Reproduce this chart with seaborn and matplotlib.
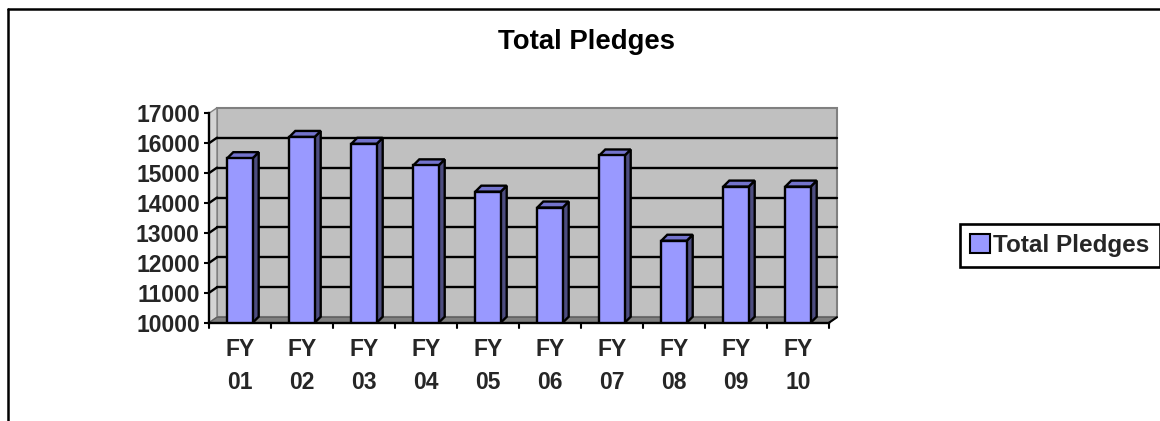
import matplotlib
matplotlib.use("Agg")
import matplotlib.pyplot as plt
import matplotlib.transforms as mtransforms
from matplotlib.patches import Polygon, Patch, Rectangle
from matplotlib.lines import Line2D
import seaborn as sns
import pandas as pd

# ---- data ----
categories = ["FY\n01", "FY\n02", "FY\n03", "FY\n04", "FY\n05",
              "FY\n06", "FY\n07", "FY\n08", "FY\n09", "FY\n10"]
pledges = [15500, 16210, 15980, 15260, 14380, 13850, 15590, 12740, 14550, 14550]
y_ticks = [10000, 11000, 12000, 13000, 14000, 15000, 16000, 17000]
series_name = "Total Pledges"
title = "Total Pledges"

sns.set_theme(style="white")
plt.rcParams["font.family"] = ["Liberation Sans", "DejaVu Sans"]
plt.rcParams["font.weight"] = "bold"

W, H, DPI = 1160, 421, 100
fig = plt.figure(figsize=(W / DPI, H / DPI), dpi=DPI)
fig.patch.set_facecolor("white")

# front plane of plot area (pixel coords from top-left)
L, R, T, B = 209, 829, 113.3, 322.7
ax = fig.add_axes([L / W, 1 - B / H, (R - L) / W, (B - T) / H])
ax.set_facecolor("none")

df = pd.DataFrame({"cat": categories, "val": pledges})
sns.barplot(data=df, x="cat", y="val", color="#9999FF", width=0.41,
            edgecolor="black", linewidth=1.7, saturation=1, ax=ax, zorder=5)
ax.set_ylim(y_ticks[0], y_ticks[-1])
ax.set_xlim(-0.5, len(categories) - 0.5)
ax.set_yticks(y_ticks)
ax.set_yticklabels([str(v) for v in y_ticks])
ax.set_xlabel("")
ax.set_ylabel("")
for s in ["top", "right"]:
    ax.spines[s].set_visible(False)
for s in ["left", "bottom"]:
    ax.spines[s].set_color("black")
    ax.spines[s].set_linewidth(1.7)
    ax.spines[s].set_zorder(8)
ax.tick_params(axis="y", length=3.6, width=1.5, color="black", pad=3.0,
               labelsize=16.5, left=True, direction="out")
ax.tick_params(axis="x", length=0, pad=11, labelsize=16.5)
for lab in ax.get_xticklabels():
    lab.set_linespacing(1.55)
    lab.set_fontweight("bold")
for lab in ax.get_yticklabels():
    lab.set_fontweight("bold")

# x ticks at category boundaries
tick_tr = mtransforms.blended_transform_factory(ax.transData, ax.transAxes)
for k in range(len(categories) + 1):
    ax.add_line(Line2D([k - 0.5, k - 0.5], [0, -5 / (B - T)], color="black", lw=1.5,
                       transform=tick_tr, clip_on=False, zorder=8))

# 3D depth of walls
dxw, dyw = 8, 5.5
off = mtransforms.ScaledTranslation(dxw / DPI, dyw / DPI, fig.dpi_scale_trans)

# back wall
ax.add_patch(Rectangle((0, 0), 1, 1, transform=ax.transAxes + off,
                       facecolor="#C0C0C0", edgecolor="#808080", lw=1.5,
                       clip_on=False, zorder=0))
# gridlines on back wall
ytr = ax.get_yaxis_transform()
for v in y_ticks[1:-1]:
    ax.add_line(Line2D([0, 1], [v, v], transform=ytr + off, color="black",
                       lw=1.7, clip_on=False, zorder=1))

ident = mtransforms.IdentityTransform()
fl0 = ax.transAxes.transform((0, 0))
fl1 = ax.transAxes.transform((1, 0))
tl0 = ax.transAxes.transform((0, 1))
side = [fl0, tl0, tl0 + [dxw, dyw], fl0 + [dxw, dyw]]
ax.add_patch(Polygon(side, closed=True, transform=ident, facecolor="#D4D4D4",
                     edgecolor="#808080", lw=1.0, clip_on=False, zorder=0.5))
for v in y_ticks[1:-1]:
    p = ytr.transform((0, v))
    ax.add_line(Line2D([p[0], p[0] + dxw], [p[1], p[1] + dyw], transform=ident,
                       color="black", lw=1.7, clip_on=False, zorder=1))
floor = [fl0, fl1, fl1 + [dxw, dyw], fl0 + [dxw, dyw]]
ax.add_patch(Polygon(floor, closed=True, transform=ident, facecolor="#808080",
                     edgecolor="#606060", lw=1.0, clip_on=False, zorder=2))
ax.add_line(Line2D([fl1[0], fl1[0] + dxw], [fl1[1], fl1[1] + dyw], transform=ident,
                   color="black", lw=1.5, clip_on=False, zorder=8))

# bar sides and tops
dxb, dyb = 6, 6
ybot = y_ticks[0]
for p in list(ax.patches):
    if not isinstance(p, Rectangle) or p.get_width() >= 1:
        continue
    x0 = p.get_x()
    w = p.get_width()
    top = p.get_y() + p.get_height()
    if top <= ybot:
        continue
    a = ax.transData.transform((x0, top))
    b = ax.transData.transform((x0 + w, top))
    c = ax.transData.transform((x0 + w, ybot))
    sidepoly = [c, b, b + [dxb, dyb], c + [dxb, dyb]]
    toppoly = [a, b, b + [dxb, dyb], a + [dxb, dyb]]
    ax.add_patch(Polygon(sidepoly, closed=True, transform=ident, facecolor="#4D4D80",
                         edgecolor="black", lw=1.7, joinstyle="miter", clip_on=False, zorder=4))
    ax.add_patch(Polygon(toppoly, closed=True, transform=ident, facecolor="#7373CC",
                         edgecolor="black", lw=1.7, joinstyle="miter", clip_on=False, zorder=4))

# title
fig.text(586.5 / W, 1 - 49 / H, title, ha="center", va="baseline",
         fontsize=19.8, fontweight="bold", color="black")

# legend
leg = fig.legend(handles=[Patch(facecolor="#9999FF", edgecolor="black", lw=1.5, label=series_name)],
                 loc="center left", bbox_to_anchor=(960 / W, 1 - 245.5 / H),
                 frameon=True, fancybox=False, edgecolor="black", framealpha=1,
                 prop={"family": "Liberation Sans", "weight": "bold", "size": 17.5},
                 handlelength=0.8, handleheight=0.8, handletextpad=0.15,
                 borderpad=0.42, borderaxespad=0)
leg.get_frame().set_linewidth(1.9)

# outer chart border (left and top)
fig.add_artist(Line2D([7.5 / W, 7.5 / W], [0, 1 - 9 / H], color="black", lw=1.8,
                      transform=fig.transFigure))
fig.add_artist(Line2D([7.5 / W, 1], [1 - 9 / H, 1 - 9 / H], color="black", lw=1.8,
                      transform=fig.transFigure))

fig.savefig("out.png", dpi=DPI, facecolor="white")
